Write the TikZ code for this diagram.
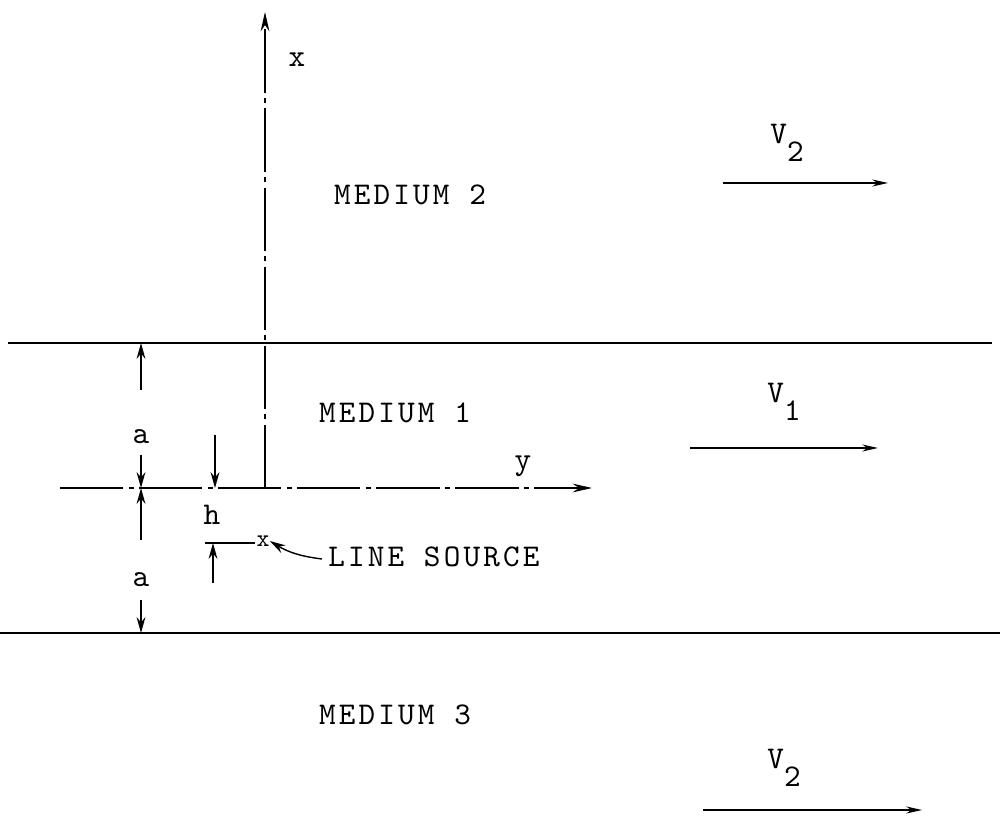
\documentclass[tikz,border=0pt]{standalone}
\usepackage{fontspec}
\setmonofont{lmmono10-regular.otf}[LetterSpace=10]
\usetikzlibrary{arrows.meta}
\tikzset{
  lbl/.style={font=\ttfamily\fontsize{18}{20}\selectfont, inner sep=0pt},
  axis/.style={line width=0.8pt, dash pattern=on 36pt off 3pt on 3pt off 3pt},
  dim/.style={line width=0.8pt, -{Stealth[length=9pt,width=5pt]}},
  flow/.style={line width=0.8pt, -{Stealth[length=9pt,width=4pt]}},
}
\newcommand{\vsub}[1]{V\raisebox{-10pt}{#1}}
\begin{document}
\begin{tikzpicture}[x=0.02cm,y=-0.02cm]
\useasboundingbox (0,0) rectangle (1004,820);
%Interfaces
\draw[line width=0.9pt] (8,343) -- (992,343);
\draw[line width=0.9pt] (0,633) -- (1000,633);
%Axes
\coordinate (O) at (265,488);
\coordinate (xend) at (265,12);
\coordinate (ystart) at (60,488);
\coordinate (yend) at (592,488);
\draw[axis,-{Stealth[length=11pt,width=5pt]}] (O) -- (xend);
\draw[axis,-{Stealth[length=11pt,width=5pt]}] (ystart) -- (yend);
\node[lbl] (xlab) at (297,60) {x};
\node[lbl] (ylab) at (523,466) {y};
%Media
\node[lbl] (med2) at (410,195) {MEDIUM 2};
\node[lbl] (med1) at (395,413) {MEDIUM 1};
\node[lbl] (med3) at (395,715) {MEDIUM 3};
%Velocities
\coordinate (v2a) at (723,183); \coordinate (v2b) at (888,183);
\coordinate (v1a) at (690,448); \coordinate (v1b) at (878,448);
\coordinate (v3a) at (703,810); \coordinate (v3b) at (922,810);
\draw[flow] (v2a) -- (v2b);
\draw[flow] (v1a) -- (v1b);
\draw[flow] (v3a) -- (v3b);
\node[lbl] (v2lab) at (787,143) {\vsub{2}};
\node[lbl] (v1lab) at (784,402) {\vsub{1}};
\node[lbl] (v3lab) at (784,768) {\vsub{2}};
%Dimension a
\node[lbl] (aup) at (141,437) {a};
\node[lbl] (alow) at (141,580) {a};
\coordinate (atop) at (141,343); \coordinate (amid) at (141,488);
\coordinate (abot) at (141,633);
\draw[dim] (141,390) coordinate (aup0) -- (atop);
\draw[dim] (141,455) coordinate (aup1) -- (amid);
\draw[dim] (141,540) coordinate (alow0) -- (amid);
\draw[dim] (141,600) coordinate (alow1) -- (abot);
%Dimension h
\node[lbl] (hlab) at (212,515) {h};
\coordinate (htop) at (215,488);
\coordinate (hsrc) at (213,543);
\draw[dim] (215,435) coordinate (h0) -- (htop);
\draw[dim] (213,583) coordinate (h1) -- (hsrc);
\draw[line width=0.8pt] (205,543) -- (255,543);
%Line source
\node[font=\ttfamily\bfseries\fontsize{14}{14}\selectfont, inner sep=0pt] (src) at (263,541) {x};
\node[lbl, anchor=west] (srclab) at (328,557) {LINE SOURCE};
\draw[dim] (srclab.west) ++(-6,2) coordinate (s0) to[bend left=12] (src.east);
\end{tikzpicture}
\end{document}
